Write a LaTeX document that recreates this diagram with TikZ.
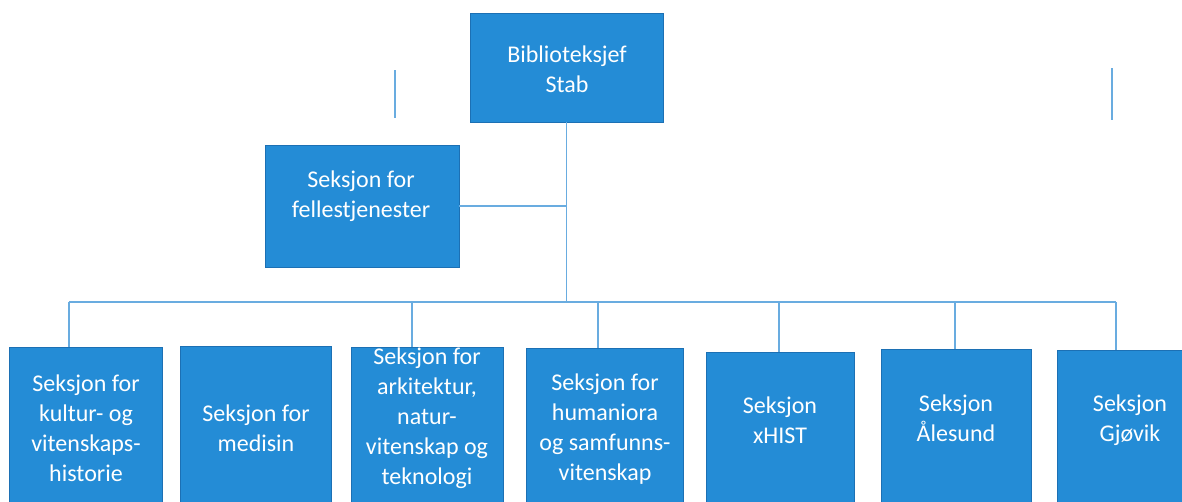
\documentclass[tikz,border=0pt]{standalone}
\usepackage{fontspec}
\setmainfont{Carlito}
\usetikzlibrary{fit}
\definecolor{boxblue}{RGB}{36,140,214}
\definecolor{boxedge}{RGB}{28,112,180}
\definecolor{linkblue}{RGB}{105,172,224}
\tikzset{
  orgbox/.style={draw=boxedge, line width=0.6pt, fill=boxblue, inner sep=0pt},
  orgtext/.style={text=white, align=center, inner sep=0pt, font=\fontsize{18}{22.5}\selectfont},
  link/.style={draw=linkblue, line width=1pt}
}
\begin{document}
\begin{tikzpicture}[x=0.75pt,y=-0.75pt]
\useasboundingbox (0,0) rectangle (1182,501);
\clip (0,0) rectangle (1182,501);
\fill[white] (0,0) rectangle (1182,501);

% top and staff boxes
\node[orgbox, fit={(470,13) (663,122)}] (top) {};
\node[orgtext] (ttop) at (567,69) {Biblioteksjef\\Stab};
\node[orgbox, fit={(265,145) (459,267)}] (fell) {};
\node[orgtext] (tfell) at (361,196) {Seksjon for\\fellestjenester};

% bottom boxes
\node[orgbox, fit={(9,347) (162,520)}] (b1) {};
\node[orgtext] (t1) at (86,428) {Seksjon for\\kultur- og\\vitenskaps-\\historie};
\node[orgbox, fit={(180,346) (331,520)}] (b2) {};
\node[orgtext] (t2) at (256,428) {Seksjon for\\medisin};
\node[orgbox, fit={(351,347) (503,520)}] (b3) {};
\node[orgtext] (t3) at (427,418) {Seksjon for\\arkitektur,\\natur-\\vitenskap og\\teknologi};
\node[orgbox, fit={(526,348) (683,520)}] (b4) {};
\node[orgtext] (t4) at (605,429) {Seksjon for\\humaniora\\og samfunns-\\vitenskap};
\node[orgbox, fit={(706,352) (854,520)}] (b5) {};
\node[orgtext] (t5) at (780,420) {Seksjon\\xHIST};
\node[orgbox, fit={(881,349) (1031,520)}] (b6) {};
\node[orgtext] (t6) at (956,418) {Seksjon\\Ålesund};
\node[orgbox, fit={(1057,350) (1205,520)}] (b7) {};
\node[orgtext] (t7) at (1130,420) {Seksjon\\Gjøvik};

% bus coordinates
\coordinate (hub) at (567,302);
\coordinate (j1) at (69,302);
\coordinate (j3) at (412,302);
\coordinate (j4) at (598,302);
\coordinate (j5) at (779,302);
\coordinate (j6) at (955,302);
\coordinate (j7) at (1116,302);

% connectors
\draw[link] (top.south) -- (top.south |- hub);
\draw[link] (fell.east) -- (fell.east -| top.south);
\draw[link] (j1) -- (j7);
\draw[link] (j1) -- (j1 |- b1.north);
\draw[link] (j3) -- (j3 |- b3.north);
\draw[link] (j4) -- (j4 |- b4.north);
\draw[link] (j5) -- (j5 |- b5.north);
\draw[link] (j6) -- (j6 |- b6.north);
\draw[link] (j7) -- (j7 |- b7.north);

% stray vertical strokes
\coordinate (s1a) at (395,70);
\coordinate (s1b) at (395,118);
\coordinate (s2a) at (1112,68);
\coordinate (s2b) at (1112,120);
\draw[link] (s1a) -- (s1b);
\draw[link] (s2a) -- (s2b);
\end{tikzpicture}
\end{document}
